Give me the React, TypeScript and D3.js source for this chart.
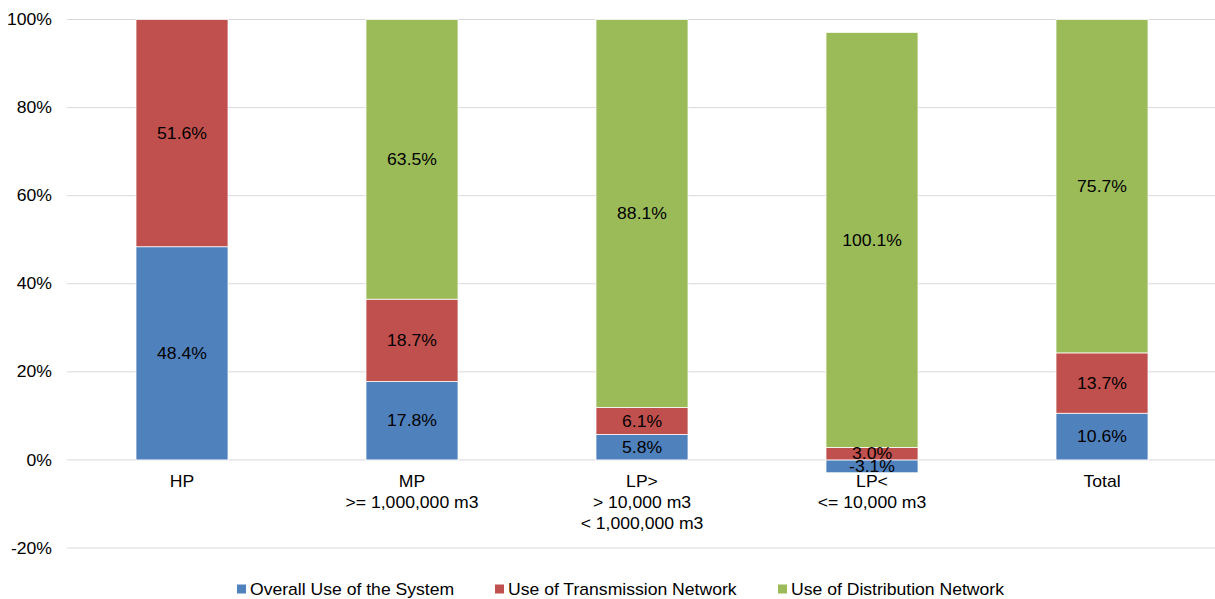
import React from "react";
import * as d3 from "d3";

const categories: string[][] = [
  ["HP"],
  ["MP", ">= 1,000,000 m3"],
  ["LP>", "> 10,000 m3", "< 1,000,000 m3"],
  ["LP<", "<= 10,000 m3"],
  ["Total"],
];
const overallUse = [48.4, 17.8, 5.8, -3.1, 10.6];
const transmissionUse = [51.6, 18.7, 6.1, 3.0, 13.7];
const distributionUse = [0, 63.5, 88.1, 100.1, 75.7];
const seriesNames = [
  "Overall Use of the System",
  "Use of Transmission Network",
  "Use of Distribution Network",
];
const seriesColors = ["#4F81BD", "#C0504D", "#9BBB59"];
const yTicks = [-20, 0, 20, 40, 60, 80, 100];

const W = 1215;
const H = 599;
const SX = 1.1;
const FS = 16;

function T(props: { x: number; y: number; anchor?: string; children: any; size?: number }) {
  const { x, y, anchor = "middle", children, size = FS } = props;
  return (
    <text
      transform={`translate(${x},${y}) scale(${SX},1)`}
      dy="0.35em"
      textAnchor={anchor}
      fontSize={size}
      fill="#000"
    >
      {children}
    </text>
  );
}

export default function App() {
  const series = [overallUse, transmissionUse, distributionUse];
  const x = d3
    .scaleBand<number>()
    .domain(categories.map((_, i) => i))
    .range([67, 1217])
    .padding(0);
  const y = d3.scaleLinear().domain([-20, 100]).range([548, 19.5]);
  const barW = x.bandwidth() * 0.4;
  const font = "'Liberation Sans', Arial, sans-serif";

  // 100% stacked: normalize by sum of absolute values, stack positives up and negatives down
  const segments: any[] = [];
  categories.forEach((_, ci) => {
    const absSum = d3.sum(series, (s) => Math.abs(s[ci]));
    let pos = 0;
    let neg = 0;
    series.forEach((s, si) => {
      const v = s[ci];
      if (v === 0) return;
      const pct = (v / absSum) * 100;
      let y0, y1;
      if (pct >= 0) {
        y0 = pos;
        y1 = pos + pct;
        pos = y1;
      } else {
        y0 = neg + pct;
        y1 = neg;
        neg = y0;
      }
      segments.push({ ci, si, v, y0, y1 });
    });
  });

  const legendX = [237, 495, 778];

  return (
    <svg width={W} height={H} style={{ position: "absolute", left: 0, top: 0 }} fontFamily={font}>
      <rect width={W} height={H} fill="#fff" />
      {yTicks.map((t) => (
        <g key={t}>
          <line x1={67} x2={1215} y1={y(t)} y2={y(t)} stroke="#D9D9D9" strokeWidth={1} />
          <T x={52} y={y(t)} anchor="end">
            {t}%
          </T>
        </g>
      ))}
      {segments.map((s, i) => {
        const cx = (x(s.ci) as number) + x.bandwidth() / 2;
        return (
          <rect
            key={i}
            x={cx - barW / 2}
            width={barW}
            y={y(s.y1)}
            height={y(s.y0) - y(s.y1)}
            fill={seriesColors[s.si]}
            stroke="#fff"
            strokeWidth={0.75}
          />
        );
      })}
      {segments.map((s, i) => {
        const cx = (x(s.ci) as number) + x.bandwidth() / 2;
        return (
          <T key={"l" + i} x={cx} y={(y(s.y0) + y(s.y1)) / 2}>
            {s.v.toFixed(1)}%
          </T>
        );
      })}
      {categories.map((lines, ci) => {
        const cx = (x(ci) as number) + x.bandwidth() / 2;
        return (
          <g key={"c" + ci}>
            {lines.map((l, li) => (
              <T key={li} x={cx} y={481 + li * 21}>
                {l}
              </T>
            ))}
          </g>
        );
      })}
      {seriesNames.map((n, si) => (
        <g key={"lg" + si}>
          <rect x={legendX[si]} y={584.5} width={9} height={9} fill={seriesColors[si]} />
          <T x={legendX[si] + 13} y={589} anchor="start">
            {n}
          </T>
        </g>
      ))}
    </svg>
  );
}
